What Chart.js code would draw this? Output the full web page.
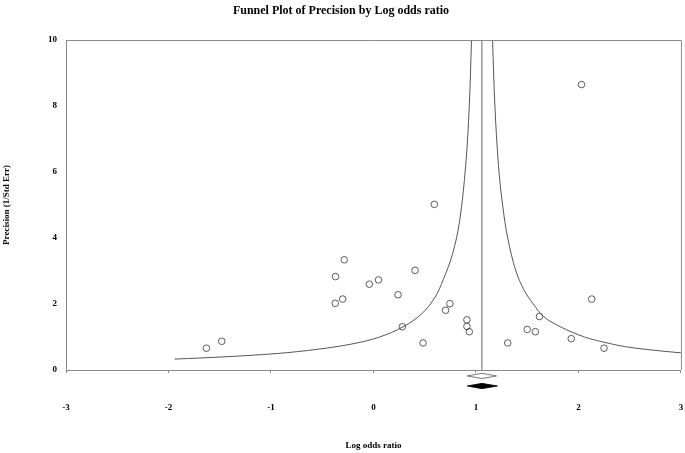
<!DOCTYPE html>
<html lang="en">
<head>
    <meta charset="UTF-8">
    <title>Funnel Plot of Precision by Log odds ratio</title>
    <script src="https://cdn.jsdelivr.net/npm/chart.js@4.4.1/dist/chart.umd.min.js"></script>
    <style>
        html, body { margin: 0; padding: 0; background: #fff; }
        .chart-box { width: 685px; height: 453px; }
    </style>
</head>
<body>

<div class="chart-box">
    <canvas id="funnel"></canvas>
</div>

<script>
    // studies: log odds ratio and precision (1/SE)
    var studyLogOR = [-1.63, -1.48, -0.285, -0.37, -0.373, -0.30, -0.04, 0.049, 0.406, 0.24, 0.282, 0.484, 0.594,
                      0.704, 0.746, 0.912, 0.912, 0.935, 2.03, 2.13, 1.62, 1.50, 1.58, 1.31, 1.93, 2.25];
    var studyPrecision = [0.66, 0.87, 3.34, 2.83, 2.02, 2.15, 2.60, 2.73, 3.02, 2.28, 1.31, 0.82, 5.02,
                          1.81, 2.01, 1.52, 1.32, 1.16, 8.65, 2.15, 1.62, 1.23, 1.16, 0.82, 0.95, 0.66];

    // funnel limits
    var leftPrecision = [0.33, 0.4, 0.5, 0.63, 0.8, 1.0, 1.31, 1.7, 2.2, 2.73, 3.5, 4.5, 6.2, 8, 10];
    var leftLogOR     = [-1.94, -1.45, -0.94, -0.54, -0.19, 0.06, 0.29, 0.47, 0.60, 0.68, 0.77, 0.84, 0.90, 0.935, 0.957];
    var rightPrecision = [0.52, 0.6, 0.71, 0.85, 1.0, 1.3, 1.62, 2.0, 2.42, 3.0, 4.0, 5.0, 6.2, 8, 10];
    var rightLogOR     = [3.0, 2.73, 2.45, 2.24, 2.06, 1.83, 1.66, 1.56, 1.47, 1.39, 1.31, 1.26, 1.22, 1.185, 1.162];

    // combined estimate and diamonds (below the axis)
    var meanLogOR = 1.058;
    var meanLine = [0, 10];
    var openDiamondX = [0.915, 1.058, 1.20, 1.058, 0.915];
    var openDiamondY = [-0.18, -0.10, -0.18, -0.26, -0.18];
    var filledDiamondX = [0.915, 1.058, 1.21, 1.058, 0.915];
    var filledDiamondY = [-0.485, -0.405, -0.485, -0.565, -0.485];

    var xTicks = [-3, -2, -1, 0, 1, 2, 3];
    var yTicks = [0, 2, 4, 6, 8, 10];

    function pairs(xs, ys) {
        var out = [];
        for (var i = 0; i < xs.length; i++) out.push({x: xs[i], y: ys[i]});
        return out;
    }

    var serif = "'Liberation Serif', 'Times New Roman', serif";
    var grey = '#8a8a8a';

    // top + right frame lines, and fill for the solid diamond (filler clips to chart area)
    var framePlugin = {
        id: 'frame',
        afterDatasetsDraw: function(chart) {
            var ctx = chart.ctx, a = chart.chartArea;
            ctx.save();
            ctx.strokeStyle = grey;
            ctx.lineWidth = 1;
            ctx.beginPath();
            ctx.moveTo(a.left, a.top + 0.5);
            ctx.lineTo(a.right + 0.5, a.top + 0.5);
            ctx.lineTo(a.right + 0.5, a.bottom);
            ctx.stroke();

            chart.data.datasets.forEach(function(ds, i) {
                if (!ds.solid) return;
                var pts = chart.getDatasetMeta(i).data;
                ctx.fillStyle = '#000';
                ctx.beginPath();
                pts.forEach(function(p, k) {
                    if (k === 0) ctx.moveTo(p.x, p.y); else ctx.lineTo(p.x, p.y);
                });
                ctx.closePath();
                ctx.fill();
            });
            ctx.restore();
        }
    };

    var ctx = document.getElementById('funnel').getContext('2d');
    new Chart(ctx, {
        type: 'scatter',
        data: {
            datasets: [
                {
                    data: pairs(studyLogOR, studyPrecision),
                    pointRadius: 3.3,
                    pointBorderWidth: 0.8,
                    borderColor: '#333',
                    backgroundColor: 'rgba(255,255,255,0)',
                    pointHoverRadius: 3.3
                },
                {
                    data: pairs(leftLogOR, leftPrecision),
                    showLine: true, pointRadius: 0, borderColor: '#555', borderWidth: 1, tension: 0.35
                },
                {
                    data: pairs(rightLogOR, rightPrecision),
                    showLine: true, pointRadius: 0, borderColor: '#555', borderWidth: 1, tension: 0.35
                },
                {
                    data: pairs([meanLogOR, meanLogOR], meanLine),
                    showLine: true, pointRadius: 0, borderColor: '#9a9a9a', borderWidth: 1.5
                },
                {
                    data: pairs(openDiamondX, openDiamondY),
                    showLine: true, pointRadius: 0, borderColor: '#555', borderWidth: 0.8, clip: false
                },
                {
                    data: pairs(filledDiamondX, filledDiamondY),
                    solid: true,
                    showLine: true, pointRadius: 0, borderColor: '#000', borderWidth: 0.8, clip: false
                }
            ]
        },
        options: {
            responsive: true,
            maintainAspectRatio: false,
            animation: false,
            layout: { padding: { left: 0, right: 3, top: 0, bottom: 0 } },
            plugins: {
                legend: { display: false },
                tooltip: { enabled: false },
                title: {
                    display: true,
                    text: 'Funnel Plot of Precision by Log odds ratio',
                    color: '#000',
                    font: { family: serif, size: 12, weight: 'bold' },
                    padding: { top: 4, bottom: 21.6 }
                }
            },
            scales: {
                x: {
                    type: 'linear',
                    min: -3, max: 3,
                    afterBuildTicks: function(scale) {
                        scale.ticks = xTicks.map(function(v) { return {value: v}; });
                    },
                    afterFit: function(scale) {
                        scale.height = 83;
                        scale.paddingLeft = 0;
                        scale.paddingRight = 0;
                    },
                    grid: { display: true, drawOnChartArea: false, drawTicks: true, tickLength: 3, color: grey },
                    border: { color: grey, width: 1 },
                    ticks: {
                        padding: 29.6,
                        color: '#000',
                        maxRotation: 0,
                        font: { family: serif, size: 9, weight: 'bold' }
                    },
                    title: {
                        display: true,
                        text: 'Log odds ratio',
                        color: '#000',
                        font: { family: serif, size: 9, weight: 'bold' },
                        padding: { top: 0, bottom: 1.6 }
                    }
                },
                y: {
                    type: 'linear',
                    min: 0, max: 10,
                    afterBuildTicks: function(scale) {
                        scale.ticks = yTicks.map(function(v) { return {value: v}; });
                    },
                    afterFit: function(scale) {
                        scale.width = 66;
                        scale.paddingTop = 0;
                        scale.paddingBottom = 0;
                    },
                    grid: { display: false, drawTicks: false },
                    border: { color: grey, width: 1 },
                    ticks: {
                        padding: 9,
                        color: '#000',
                        font: { family: serif, size: 9, weight: 'bold' }
                    },
                    title: {
                        display: true,
                        text: 'Precision (1/Std Err)',
                        color: '#000',
                        font: { family: serif, size: 9, weight: 'bold' },
                        padding: { top: 1.6, bottom: 0 }
                    }
                }
            }
        },
        plugins: [framePlugin]
    });
</script>

</body>
</html>
